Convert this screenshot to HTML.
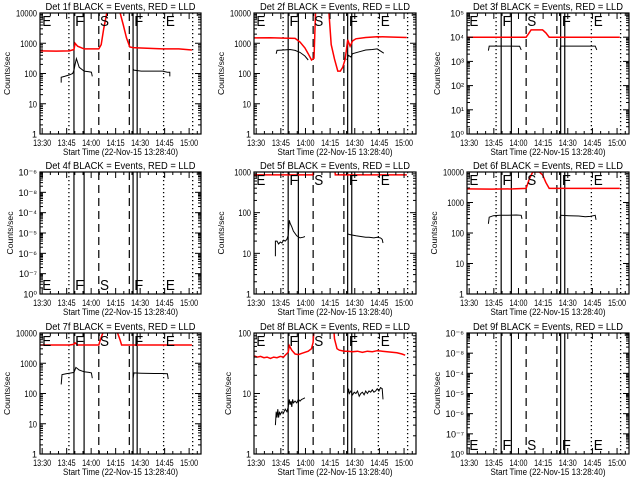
<!DOCTYPE html>
<html><head><meta charset="utf-8">
<style>
html,body{margin:0;padding:0;background:#fff;width:640px;height:480px;overflow:hidden}
svg{display:block}
text{font-family:"Liberation Sans",sans-serif;fill:#000}
</style></head>
<body>
<svg id="chart" width="640" height="480" viewBox="0 0 640 480" xmlns="http://www.w3.org/2000/svg"></svg>
<script>
// ---- time axis (minutes after 13:28:40) ----
const tickLabels = ["13:30","13:45","14:00","14:15","14:30","14:45","15:00"];
const tickTimes = [1.33,16.33,31.33,46.33,61.33,76.33,91.33];
const dottedTimes = [17.7,75.7,93.5];
const solidTimes = [20.8,27.0,57.0,59.5];
const dashedTimes = [36.0,54.7];
const phaseLetters = ["E","F","S","F","E"];
const phaseTimes = [0.8,20.9,36.1,57.1,76.5];

// ---- panel data (t in minutes, values in counts/sec; null = gap) ----
const p1RedT = [0,10,18,20.8,21.5,23,27,36,37.5,39,41,49,51,53,55,57,60,75,85,93];
const p1RedV = [560,550,560,620,1000,800,650,650,900,3000,10500,10500,4000,1500,750,720,700,650,650,600];
const p1BlkT = [13,13,15,18,20,20.8,21.5,22.3,24,27,30,31.5,32,null,57,57.5,62,70,75,78,79.5,79.5];
const p1BlkV = [50,75,80,90,100,130,200,310,160,120,115,110,80,null,140,130,120,120,120,110,110,80];

const p2RedT = [0,10,18,25,28,31,33,35,36.5,37.5,null,45.5,47,49,51,52.5,54,55.5,57,58.5,60,62,68,75,85,93];
const p2RedV = [1500,1520,1480,1450,1100,700,450,280,320,12000,null,12000,900,300,120,120,160,300,1300,800,1200,1400,1550,1650,1600,1550];
const p2BlkT = [13.5,14,18,22,25,28,31,33,null,56.5,57.5,59,60,64,68,72,75,79];
const p2BlkV = [450,580,600,620,580,500,380,280,null,280,400,350,450,520,600,620,650,470];

const p3RedT = [0,20,36,37.5,39,46,48,50,70,93];
const p3RedV = [10000,10000,10000,14000,20000,20000,15000,10000,10000,10000];
const p3BlkT = [13,13.5,20,26,32,33,null,56.5,57,65,72,78,79];
const p3BlkV = [2800,4300,4300,4300,4200,3000,null,3000,4300,4300,4300,4300,3000];

const p5RedT = [0,20,35.9,36.2,null,49.2,49.5,60,80,93];
const p5RedV = [850,850,850,1200,null,1200,850,850,850,850];
const p5BlkT = [13,13,14,15,16,17,18,19,20,20.8,21.5,22,23,24,26,28,30,31,null,57,58,60,62,65,68,70,73,75,77,78,78.5];
const p5BlkV = [8.5,20,20,17,19,18,21,20,22,28,65,55,45,35,27,24,25,26,null,30,29,28,27,26,25,25,24,25,24,22,18];

const p6RedT = [0,15,28,36,38,40,44,46,48,50,60,80,93];
const p6RedV = [2800,2750,2800,2900,6000,10000,10000,8000,4500,2900,2900,2900,2900];
const p6BlkT = [13,13.5,16,20,25,30,33,33.5,null,56.5,57,62,68,72,75,78,78.5];
const p6BlkV = [200,330,370,380,380,390,380,290,null,300,380,370,360,340,350,380,270];

const p7RedT = [0,18,20.5,21.5,23,36,37,39,null,47,49,50,70,93];
const p7RedV = [4000,4000,4200,4700,4000,4000,6000,12000,null,12000,6000,4000,4000,4000];
const p7BlkT = [13,13.5,16,18,20.8,22,24,27,30,31.5,32,null,57,57.5,62,70,75,78,78.5];
const p7BlkV = [200,420,450,470,500,730,600,520,500,480,320,null,320,480,470,460,460,450,300];

const p8RedT = [0,2,4,6,8,10,12,14,16,18,19,20.8,21.5,23,25,27,29,31,33,35,36,36.5,null,48.5,49,50.5,52,55,57,60,63,66,69,72,75,78,81,84,87,90,92];
const p8RedV = [42,40,41,39,40,38,40,39,41,40,43,48,62,52,45,44,46,48,50,55,70,120,null,120,80,55,52,50,50,49,50,48,50,49,51,50,49,48,47,45,43];
const p8BlkT = [13,13.5,14,14.5,15,15.5,16,17,18,19,20,20.8,21.5,22,22.5,23,23.5,24,25,26,27,28,29,30,31,null,57,57.5,58,59,60,61,62,63,64,65,66,67,68,69,70,71,72,73,74,75,76,77,78,78.5];
const p8BlkV = [3,5,4,5.5,4,5,4.5,5,4.8,5.5,5,6,8,6.5,7.5,6,8,7,7.5,7,8,7.5,8,8.2,8.5,null,10,12,10,11,9.5,10.5,10,11,9,10,10.5,9.5,11,10,11,10.5,11.5,10.5,11,12,11,12.5,12,8];

const panelTitles = ["Det 1f","Det 2f","Det 3f","Det 4f","Det 5f","Det 6f","Det 7f","Det 8f","Det 9f"];

const NS = "http://www.w3.org/2000/svg";
const svg = document.getElementById("chart");
function mk(tag, attrs, parent){ const e=document.createElementNS(NS,tag); for(const k in attrs) e.setAttribute(k,attrs[k]); (parent||svg).appendChild(e); return e; }

const T_MAX = 98.6;
const sup = {"0":"⁰","1":"¹","2":"²","3":"³","4":"⁴","5":"⁵","6":"⁶","7":"⁷","8":"⁸","-":"⁻"};
function supify(n){ return String(n).split("").map(c=>sup[c]).join(""); }

const panels = [
 {L:40,R:201,T:13,B:134,lo:0,hi:4,lab:"plain",red:[p1RedT,p1RedV],blk:[p1BlkT,p1BlkV],letters:"top"},
 {L:254,R:416,T:13,B:134,lo:0,hi:4,lab:"plain",red:[p2RedT,p2RedV],blk:[p2BlkT,p2BlkV],letters:"top"},
 {L:467,R:629,T:13,B:134,lo:0,hi:5,lab:"exp",red:[p3RedT,p3RedV],blk:[p3BlkT,p3BlkV],letters:"top"},
 {L:40,R:201,T:172,B:294,lo:0,hi:6,lab:"empty",red:null,blk:null,letters:"bottom"},
 {L:254,R:416,T:172,B:294,lo:0,hi:3,lab:"plain",red:[p5RedT,p5RedV],blk:[p5BlkT,p5BlkV],letters:"top"},
 {L:467,R:629,T:172,B:294,lo:0,hi:4,lab:"plain",red:[p6RedT,p6RedV],blk:[p6BlkT,p6BlkV],letters:"top"},
 {L:40,R:201,T:333,B:454,lo:0,hi:4,lab:"plain",red:[p7RedT,p7RedV],blk:[p7BlkT,p7BlkV],letters:"top"},
 {L:254,R:416,T:333,B:454,lo:0,hi:2,lab:"plain",red:[p8RedT,p8RedV],blk:[p8BlkT,p8BlkV],letters:"top"},
 {L:467,R:629,T:333,B:454,lo:0,hi:6,lab:"empty",red:null,blk:null,letters:"bottom"}
];
const emptyLabels = ["10⁰","10⁻⁷","10⁻⁶","10⁻⁵","10⁻⁴","10⁻⁸","10⁻⁶"];

panels.forEach((p,i)=>{
  const g = mk("g",{});
  
  
  const xs = t => p.L + t/T_MAX*(p.R-p.L);
  const ys = v => p.B - (Math.log10(v)-p.lo)/(p.hi-p.lo)*(p.B-p.T);
  const cid = "clip"+i;
  const cp = mk("clipPath",{id:cid},g); mk("rect",{x:p.L,y:p.T,width:p.R-p.L,height:p.B-p.T},cp);

  dottedTimes.forEach(t=>{ const l=mk("line",{x1:xs(t),x2:xs(t),y1:p.T,y2:p.B,stroke:"#000","stroke-width":1.3,"stroke-dasharray":"1.3 2.7"},g);
      });
  solidTimes.forEach(t=>{ const l=mk("line",{x1:xs(t),x2:xs(t),y1:p.T,y2:p.B,stroke:"#000","stroke-width":1.2},g);
      });
  dashedTimes.forEach(t=>{ const l=mk("line",{x1:xs(t),x2:xs(t),y1:p.T,y2:p.B,stroke:"#000","stroke-width":1.2,"stroke-dasharray":"8 5"},g);
      });

  function series(arr,color,name){
    if(!arr) return;
    const [T,V]=arr; let segs=[],cur=[];
    for(let k=0;k<T.length;k++){ if(T[k]===null){ if(cur.length) segs.push(cur); cur=[]; continue; } cur.push(xs(T[k]).toFixed(1)+","+ys(V[k]).toFixed(1)); }
    if(cur.length) segs.push(cur);
    segs.forEach(s=>{ const pl=mk("polyline",{points:s.join(" "),fill:"none",stroke:color,"stroke-width":color==="#000"?1:1.5,"clip-path":"url(#"+cid+")"},g);
        });
  }
  series(p.red,"#ff0000","red-lld-line");
  series(p.blk,"#000","black-events-line");

  phaseLetters.forEach((s,k)=>{
    const y = p.letters==="top" ? p.T+13 : p.B-4;
    const t=mk("text",{x:xs(phaseTimes[k])+1,y:y,"font-size":15,textLength:9,lengthAdjust:"spacingAndGlyphs"},g); t.textContent=s;
     
  });

  const bx=mk("rect",{x:p.L,y:p.T,width:p.R-p.L,height:p.B-p.T,fill:"none",stroke:"#000","stroke-width":1.2},g);
   

  for(let m=1.33-5; m<T_MAX; m+=5){
    if(m<0) continue;
    const major = Math.abs(((m-1.33)/15)-Math.round((m-1.33)/15))<0.01;
    const len = major?6:3, x=xs(m);
    mk("line",{x1:x,x2:x,y1:p.B,y2:p.B-len,stroke:"#000","stroke-width":1},g);
    mk("line",{x1:x,x2:x,y1:p.T,y2:p.T+len,stroke:"#000","stroke-width":1},g);
  }
  tickTimes.forEach((m,k)=>{ const t=mk("text",{x:xs(m),y:p.B+12,"font-size":9,"text-anchor":"middle",textLength:18,lengthAdjust:"spacingAndGlyphs"},g); t.textContent=tickLabels[k];
      });

  for(let d=p.lo; d<=p.hi; d++){
    const y=p.B-(d-p.lo)/(p.hi-p.lo)*(p.B-p.T);
    mk("line",{x1:p.L,x2:p.L+6,y1:y,y2:y,stroke:"#000","stroke-width":1},g);
    mk("line",{x1:p.R,x2:p.R-6,y1:y,y2:y,stroke:"#000","stroke-width":1},g);
    if(d<p.hi) for(let k=2;k<10;k++){ const yy=ys(Math.pow(10,d)*k);
      mk("line",{x1:p.L,x2:p.L+3,y1:yy,y2:yy,stroke:"#000","stroke-width":1},g);
      mk("line",{x1:p.R,x2:p.R-3,y1:yy,y2:yy,stroke:"#000","stroke-width":1},g); }
    let s;
    if(p.lab==="plain") s=String(Math.pow(10,d));
    else if(p.lab==="exp") s="10"+supify(d);
    else s=emptyLabels[d-p.lo];
    const attrs={x:p.L-3,y:y+3.5,"font-size":9,"text-anchor":"end"};
    if(s.length>1 && p.lab==="plain"){ attrs.textLength=s.length*4.2; attrs.lengthAdjust="spacingAndGlyphs"; }
    const t=mk("text",attrs,g); t.textContent=s;
     
  }

  const tt=mk("text",{x:(p.L+p.R)/2,y:p.T-3,"font-size":10,"text-anchor":"middle",textLength:150,lengthAdjust:"spacingAndGlyphs"},g);
  tt.textContent=panelTitles[i]+" BLACK = Events, RED = LLD";
   
  const xt=mk("text",{x:(p.L+p.R)/2,y:p.B+21,"font-size":9.5,"text-anchor":"middle",textLength:115,lengthAdjust:"spacingAndGlyphs"},g);
  xt.textContent="Start Time (22-Nov-15 13:28:40)";
   
  const cy=(p.T+p.B)/2, cx=p.L-(p.lab==="plain"&&p.hi>=3?30:(p.lab==="plain"?23:27));
  const yt=mk("text",{x:cx,y:cy,"font-size":8,"text-anchor":"middle",transform:"rotate(-90 "+cx+" "+cy+")",textLength:43,lengthAdjust:"spacingAndGlyphs"},g);
  yt.textContent="Counts/sec";
   
});
</script>
</body></html>
